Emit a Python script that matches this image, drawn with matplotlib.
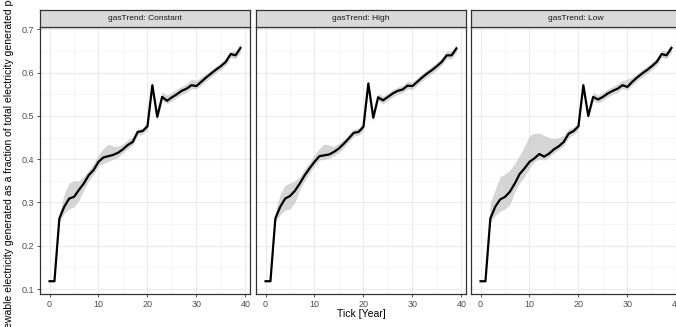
import matplotlib
matplotlib.use("Agg")
import matplotlib.pyplot as plt
import numpy as np

plt.rcParams['font.family'] = ['Liberation Sans', 'DejaVu Sans']

ticks = list(range(40))
panels = ["gasTrend: Constant", "gasTrend: High", "gasTrend: Low"]

constant_mean = [0.118, 0.118, 0.263, 0.290, 0.309, 0.313, 0.329, 0.344, 0.363, 0.375,
                 0.394, 0.404, 0.407, 0.410, 0.415, 0.423, 0.433, 0.440, 0.463, 0.465,
                 0.476, 0.571, 0.498, 0.544, 0.535, 0.543, 0.550, 0.558, 0.563, 0.571,
                 0.569, 0.579, 0.589, 0.598, 0.607, 0.615, 0.625, 0.643, 0.640, 0.657]
constant_low = [0.118, 0.118, 0.255, 0.275, 0.285, 0.290, 0.305, 0.330, 0.350, 0.365,
                0.385, 0.390, 0.395, 0.400, 0.405, 0.415, 0.425, 0.432, 0.455, 0.458,
                0.468, 0.563, 0.490, 0.535, 0.528, 0.535, 0.542, 0.550, 0.555, 0.563,
                0.562, 0.571, 0.581, 0.590, 0.600, 0.607, 0.617, 0.635, 0.632, 0.648]
constant_high = [0.118, 0.118, 0.275, 0.320, 0.345, 0.350, 0.350, 0.360, 0.375, 0.390,
                 0.410, 0.425, 0.435, 0.430, 0.430, 0.435, 0.445, 0.452, 0.470, 0.473,
                 0.485, 0.580, 0.507, 0.555, 0.548, 0.555, 0.562, 0.568, 0.575, 0.585,
                 0.582, 0.590, 0.598, 0.606, 0.615, 0.623, 0.633, 0.650, 0.650, 0.668]

high_mean = [0.118, 0.118, 0.263, 0.290, 0.309, 0.315, 0.327, 0.344, 0.363, 0.379,
             0.394, 0.407, 0.409, 0.411, 0.417, 0.425, 0.436, 0.448, 0.461, 0.463,
             0.475, 0.575, 0.496, 0.543, 0.536, 0.544, 0.552, 0.558, 0.561, 0.570,
             0.569, 0.579, 0.589, 0.598, 0.606, 0.615, 0.625, 0.640, 0.640, 0.656]
high_low = [0.118, 0.118, 0.255, 0.272, 0.282, 0.285, 0.300, 0.330, 0.350, 0.368,
            0.385, 0.398, 0.400, 0.402, 0.408, 0.416, 0.427, 0.440, 0.453, 0.456,
            0.466, 0.567, 0.488, 0.535, 0.528, 0.536, 0.544, 0.550, 0.554, 0.562,
            0.561, 0.571, 0.581, 0.590, 0.598, 0.607, 0.617, 0.632, 0.632, 0.647]
high_high = [0.118, 0.118, 0.280, 0.320, 0.340, 0.345, 0.350, 0.360, 0.378, 0.392,
             0.410, 0.425, 0.435, 0.432, 0.430, 0.437, 0.446, 0.457, 0.470, 0.472,
             0.484, 0.583, 0.505, 0.552, 0.545, 0.553, 0.561, 0.567, 0.570, 0.580,
             0.578, 0.588, 0.598, 0.607, 0.615, 0.624, 0.634, 0.650, 0.650, 0.666]

low_mean = [0.118, 0.118, 0.263, 0.290, 0.307, 0.313, 0.325, 0.344, 0.366, 0.379,
            0.394, 0.402, 0.412, 0.406, 0.413, 0.423, 0.430, 0.440, 0.459, 0.465,
            0.476, 0.571, 0.500, 0.544, 0.538, 0.544, 0.552, 0.558, 0.563, 0.571,
            0.567, 0.579, 0.589, 0.598, 0.606, 0.615, 0.625, 0.643, 0.640, 0.657]
low_low = [0.118, 0.118, 0.255, 0.270, 0.280, 0.285, 0.295, 0.325, 0.345, 0.360,
           0.380, 0.395, 0.400, 0.398, 0.405, 0.415, 0.422, 0.432, 0.450, 0.457,
           0.468, 0.563, 0.492, 0.535, 0.530, 0.536, 0.544, 0.550, 0.555, 0.563,
           0.560, 0.571, 0.581, 0.590, 0.598, 0.607, 0.617, 0.635, 0.632, 0.648]
low_high = [0.118, 0.118, 0.300, 0.330, 0.360, 0.365, 0.375, 0.390, 0.410, 0.430,
            0.455, 0.460, 0.460, 0.455, 0.450, 0.448, 0.450, 0.455, 0.470, 0.474,
            0.485, 0.580, 0.508, 0.555, 0.548, 0.555, 0.562, 0.568, 0.574, 0.582,
            0.585, 0.590, 0.598, 0.607, 0.615, 0.624, 0.634, 0.652, 0.650, 0.668]

means = [constant_mean, high_mean, low_mean]
lows = [constant_low, high_low, low_low]
highs = [constant_high, high_high, low_high]

W, H = 676, 327
fig = plt.figure(figsize=(W / 100, H / 100), dpi=100)

panel_x = [(40, 250), (256, 466), (471, 681)]
ptop, pbot = 27, 294
strip_top = 10

for i, (x0, x1) in enumerate(panel_x):
    ax = fig.add_axes([x0 / W, 1 - pbot / H, (x1 - x0) / W, (pbot - ptop) / H])
    ax.set_facecolor('white')
    x = np.array(ticks)
    ax.fill_between(x, lows[i], highs[i], color='#c8c8c8', alpha=0.75, lw=0, zorder=2)
    ax.plot(x, means[i], color='black', lw=1.6, zorder=3)
    ax.set_xlim(-1.95, 40.95)
    ax.set_ylim(0.0885, 0.7055)
    ax.set_xticks([0, 10, 20, 30, 40])
    ax.set_xticks([5, 15, 25, 35], minor=True)
    ax.set_yticks([0.1, 0.2, 0.3, 0.4, 0.5, 0.6, 0.7])
    ax.set_yticks([0.15, 0.25, 0.35, 0.45, 0.55, 0.65], minor=True)
    ax.grid(which='major', color='#ebebeb', lw=0.8, zorder=0)
    ax.grid(which='minor', color='#f3f3f3', lw=0.5, zorder=0)
    ax.set_axisbelow(True)
    ax.tick_params(which='major', length=2.5, width=0.6, color='#333333',
                   labelsize=6.5, labelcolor='#4d4d4d', pad=2)
    ax.tick_params(which='minor', length=0)
    if i > 0:
        ax.set_yticklabels([])
        ax.tick_params(axis='y', which='major', length=0)
    else:
        ax.set_yticklabels(['0.1', '0.2', '0.3', '0.4', '0.5', '0.6', '0.7'])
    for s in ax.spines.values():
        s.set_color('#333333')
        s.set_linewidth(0.9)
    # strip
    sax = fig.add_axes([x0 / W, 1 - ptop / H, (x1 - x0) / W, (ptop - strip_top) / H])
    sax.set_facecolor('#d9d9d9')
    sax.set_xticks([])
    sax.set_yticks([])
    for s in sax.spines.values():
        s.set_color('#333333')
        s.set_linewidth(0.9)
    sax.text(0.5, 0.5, panels[i], ha='center', va='center', fontsize=6,
             color='#1a1a1a', transform=sax.transAxes)

fig.text(361 / W, 1 - 314 / H, 'Tick [Year]', ha='center', va='center',
         fontsize=7.5, color='black')
fig.text(9 / W, 1 - 347 / H,
         'Renewable electricity generated as a fraction of total electricity generated per year',
         rotation=90, rotation_mode='anchor', ha='left', va='center',
         fontsize=7.5, color='black')

fig.savefig('out.png', dpi=100)
